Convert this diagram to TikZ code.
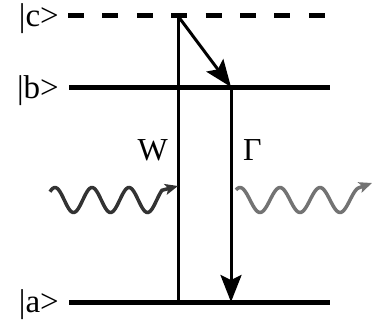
\documentclass[tikz,border=0pt]{standalone}
\usepackage{fontspec}
\setmainfont{Liberation Serif}
\usetikzlibrary{arrows.meta}
\tikzset{
  level/.style={line width=5pt},
  trans/.style={line width=3pt},
  ket/.style={anchor=base east,inner sep=0pt,font=\fontsize{33}{33}\selectfont},
  rate/.style={inner sep=0pt,font=\fontsize{32}{32}\selectfont},
  photon/.style={line width=3.5pt,-{Stealth[length=13pt,width=11pt,inset=3pt]}},
}
\begin{document}
\begin{tikzpicture}[x=1pt,y=-1pt,>={Stealth[length=27pt,width=21pt,inset=5pt]}]
    \useasboundingbox (0,0) rectangle (374,321);
    % levels
    \coordinate (c0) at (68,16);  \coordinate (c1) at (329,16);
    \coordinate (b0) at (69,87);  \coordinate (b1) at (330,87);
    \coordinate (a0) at (69,302); \coordinate (a1) at (330,302);
    \draw[level,dash pattern=on 16pt off 18.4pt] (c0) -- (c1);
    \draw[level] (b0) -- (b1)
        (a0) -- (a1);
    \node[ket] (lc) at (59,27) {|c>};
    \node[ket] (lb) at (59,98) {|b>};
    \node[ket] (la) at (59,312) {|a>};
    % transitions
    \coordinate (wa) at (178,302); \coordinate (wc) at (178,16);
    \coordinate (gb) at (231,87);  \coordinate (ga) at (231,302);
    \draw[trans] (wa) -- (wc);
    \draw[trans,->] (wc) -- (gb);
    \draw[trans,->] (gb) -- (ga);
    \node[rate,anchor=base east] (w) at (168,160) {W};
    \node[rate,anchor=base west] (g) at (243,160) {Γ};
    % photons
    \coordinate (inL) at (178,186);
    \coordinate (outR) at (372,183);
    \draw[photon,black!80] plot[domain=50:162,samples=80,smooth] (\x,{200-12.5*cos(9.73*(\x-55))}) -- (inL);
    \draw[photon,black!55] plot[domain=236:358,samples=80,smooth] (\x,{200-12.5*cos(9*(\x-240))}) -- (outR);
\end{tikzpicture}
\end{document}
